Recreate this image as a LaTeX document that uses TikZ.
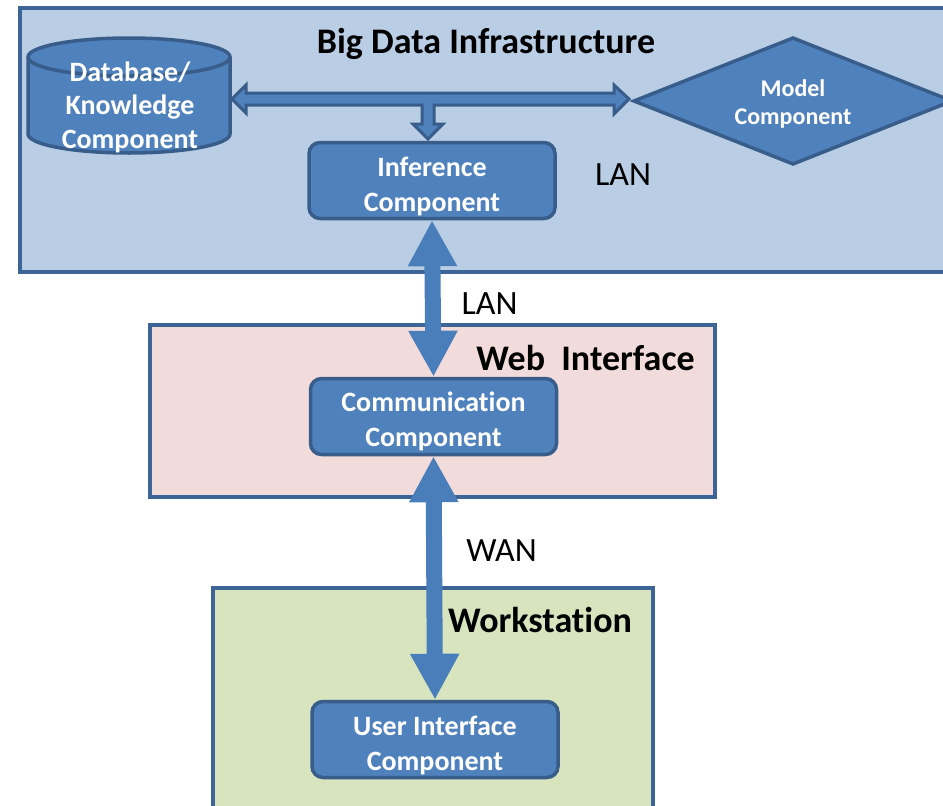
\documentclass[tikz,border=0pt]{standalone}
\usepackage{fontspec}
\setmainfont{Carlito}[Ligatures=NoCommon]
\usetikzlibrary{arrows.meta,shapes.geometric,calc}
\definecolor{infraFill}{HTML}{B9CDE5}
\definecolor{webFill}{HTML}{F2DCDB}
\definecolor{wsFill}{HTML}{D7E4BD}
\definecolor{frameLine}{HTML}{3D6496}
\definecolor{compFill}{HTML}{4F81BD}
\definecolor{compLine}{HTML}{385D8A}
\definecolor{linkFill}{HTML}{4A7EBB}

\begin{document}
\begin{tikzpicture}[x=1pt,y=-1pt,
  frame/.style={draw=frameLine, line width=4pt, rectangle, inner sep=0pt},
  comp/.style={draw=compLine, fill=compFill, line width=3.5pt, rounded corners=11pt,
    minimum width=246pt, minimum height=76pt, inner sep=0pt},
  comptext/.style={align=center, inner sep=0pt, text=white,
    font=\fontsize{28}{35}\selectfont\bfseries},
  title/.style={font=\fontsize{36}{40}\selectfont\bfseries, inner sep=0pt, anchor=base},
  netlabel/.style={font=\fontsize{34}{38}\selectfont, inner sep=0pt, anchor=base},
  link/.style={draw=linkFill, line width=16pt, >={Triangle[width=46pt,length=46pt]}, <->},
  bus/.style={draw=compLine, fill=compFill, line width=3pt, line join=miter}
]
\useasboundingbox (0,0) rectangle (943,806);
\clip (0,0) rectangle (943,806);

% tier frames
\node[frame, fill=infraFill, minimum width=940pt, minimum height=264pt] (infra) at (490,140) {};
\node[frame, fill=webFill, minimum width=565pt, minimum height=172pt] (web) at (432.5,411) {};
\node[frame, fill=wsFill, minimum width=440pt, minimum height=242pt] (ws) at (433,709) {};

% tier titles
\node[title] (infraT) at (486,53) {Big Data Infrastructure};
\node[title] (webT) at (585.5,370) {Web\ \ Interface};
\node[title] (wsT) at (540,632) {Workstation};

% database cylinder
\fill[compFill, draw=compLine, line width=3.5pt]
  (28,57) -- (28,134)
  .. controls (28,144.5) and (73.2,153) .. (129,153)
  .. controls (184.8,153) and (230,144.5) .. (230,134)
  -- (230,57)
  .. controls (230,46.5) and (184.8,38) .. (129,38)
  .. controls (73.2,38) and (28,46.5) .. (28,57) -- cycle;
\draw[compLine, line width=3.5pt]
  (28,57) .. controls (28,67.5) and (73.2,76) .. (129,76)
  .. controls (184.8,76) and (230,67.5) .. (230,57);
\node[align=center, text=white, font=\fontsize{28}{33.5}\selectfont\bfseries, inner sep=0pt]
  (db) at (130,107) {Database/\\Knowledge\\Component};

% model diamond
\coordinate (model) at (793,101);
\path[draw=compLine, fill=compFill, line width=3.5pt, line join=miter]
  ($(model)+(-159,0)$) -- ($(model)+(0,-63)$) -- ($(model)+(159,0)$)
  -- ($(model)+(0,63)$) -- cycle;
\node[align=center, text=white, inner sep=0pt, font=\fontsize{24}{28}\selectfont\bfseries]
  (modelText) at ($(model)+(0,3)$) {Model\\Component};

% components
\node[comp] (inf) at (432,180.5) {};
\node[comp] (comm) at (433.5,416.5) {};
\node[comp] (ui) at (435,739.5) {};
\node[comptext] (infText) at ($(inf)+(0,6)$) {Inference\\Component};
\node[comptext] (commText) at ($(comm)+(0,5)$) {Communication\\Component};
\node[comptext] (uiText) at ($(ui)+(0,6)$) {User Interface\\Component};

% shared bus between database, model and inference
\coordinate (busL) at (232,99);
\coordinate (busR) at (629,99);
\coordinate (busD) at (428,139);
\path[bus]
  (busL) -- ++(14,-14) -- ++(0,8) -- ($(busR)+(-15,-6)$) -- ++(0,-8) -- (busR)
  -- ++(-15,15) -- ++(0,-9) -- ($(busD)+(6,-34)$) -- ++(0,19) -- ++(9,0)
  -- (busD) -- ++(-15,-15) -- ++(9,0) -- ++(0,-19) -- ($(busL)+(14,6)$)
  -- ++(0,8) -- cycle;

% network links
\draw[link] (inf.south) -- (comm.north);
\draw[link] (comm.south) -- (ui.north);

% network labels
\node[netlabel] (lanTop) at (623,185) {LAN};
\node[netlabel] (lanMid) at (489.5,314) {LAN};
\node[netlabel] (wan) at (501.5,561) {WAN};
\end{tikzpicture}
\end{document}
